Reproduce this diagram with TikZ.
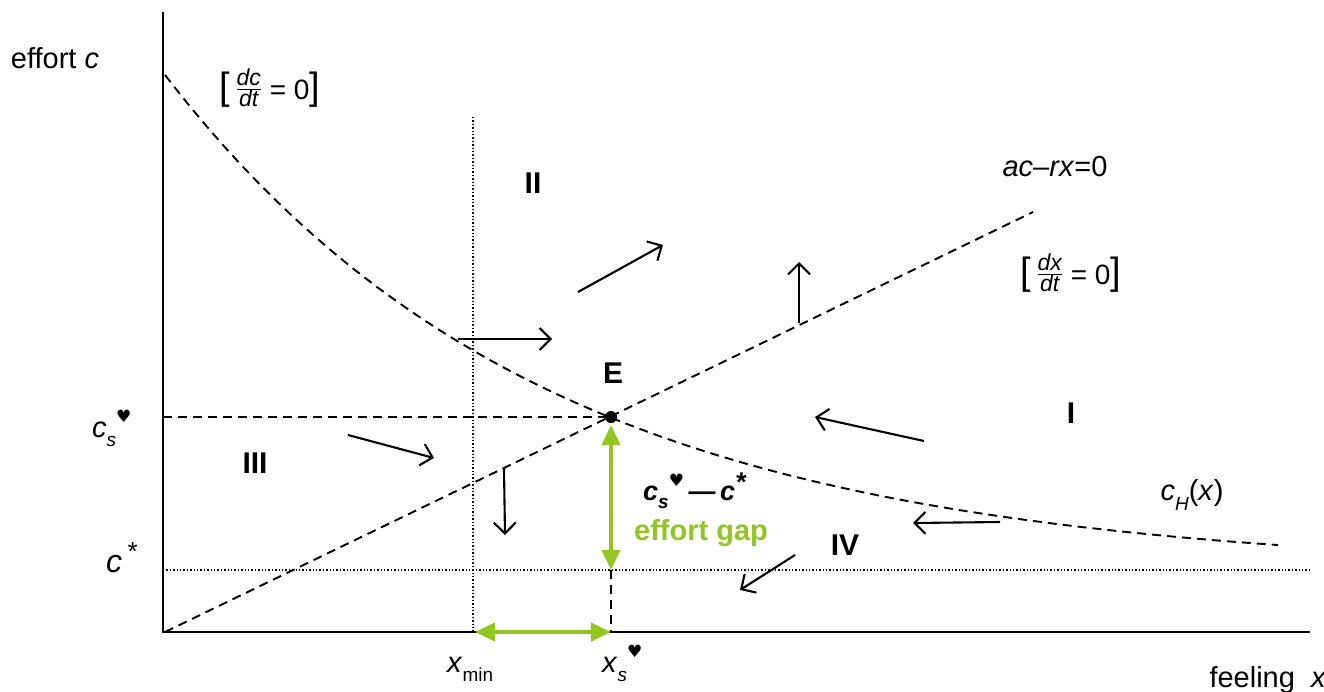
\documentclass[tikz,border=0pt]{standalone}
\usepackage{fontspec}
\setmainfont{Liberation Sans}
\newfontfamily\heartfont{DejaVu Sans}
\usetikzlibrary{arrows.meta}
\definecolor{gapgreen}{RGB}{146,200,30}
\newcommand{\hrt}{{\heartfont\fontsize{17}{17}\selectfont ♥}}
\newcommand{\subs}[1]{\raisebox{-0.32em}{\fontsize{19}{19}\selectfont #1}}
\newcommand{\sups}[1]{\raisebox{0.5em}{#1}}
\newcommand{\slopefrac}[2]{{\fontsize{38}{38}\selectfont[}\,\raisebox{0.12em}{\ensuremath{\frac{\mbox{\fontsize{23}{23}\selectfont\itshape #1}}{\mbox{\fontsize{23}{23}\selectfont\itshape #2}}}}\mbox{\fontsize{28}{28}\selectfont\ = 0}{\fontsize{38}{38}\selectfont]}}
\begin{document}
\begin{tikzpicture}[x=1pt,y=-1pt,
  lbl/.style={font=\fontsize{29}{32}\selectfont, inner sep=0pt},
  roman/.style={font=\fontsize{30}{32}\selectfont\bfseries, inner sep=0pt},
  dline/.style={dash pattern=on 9pt off 6pt, line width=1.9pt},
  dotline/.style={dash pattern=on 1.4pt off 2pt, line width=1.4pt},
  flow/.style={line width=2.1pt, -{Straight Barb[length=11pt,width=22pt,line width=2.1pt]}},
  gaparrow/.style={gapgreen, line width=4pt, {Triangle[length=20pt,width=18pt]}-{Triangle[length=20pt,width=18pt]}}]
\useasboundingbox (0,0) rectangle (1324,691);

% axes
\coordinate (Ytop) at (163,12);
\coordinate (O) at (163,632);
\coordinate (Xend) at (1310,632);
\draw[line width=2.4pt] (Ytop) -- (O) -- (Xend);

% key points
\coordinate (E) at (611,417);
\coordinate (cstarL) at (163,570);
\coordinate (cstarR) at (1310,570);
\coordinate (xminT) at (473,117);
\coordinate (xminB) at (473,632);
\coordinate (lineS) at (165,632);
\coordinate (lineE) at (1033,212);
\coordinate (csL) at (163,417);
\coordinate (EcS) at (611,570);
\coordinate (EX) at (611,632);

% reference lines
\draw[dotline] (cstarL) -- (cstarR);
\draw[dotline] (xminT) -- (xminB);
\draw[dline] (lineS) -- (lineE);
\draw[dline] (csL) -- (E);
\draw[dline] (EcS) -- (EX);
\draw[dline] plot[domain=165:1278, samples=90] (\x, {571.8-496.8*exp(-0.00262*(\x-165))});

% green gap arrows
\coordinate (gT) at (611,425);
\coordinate (gL) at (475,632);
\draw[gaparrow] (gT) -- (EcS);
\draw[gaparrow] (gL) -- (EX);

% equilibrium
\fill (E) circle (6pt);

% flow arrows
\coordinate (a1s) at (458,339); \coordinate (a1e) at (552,339);
\coordinate (a2s) at (578,292); \coordinate (a2e) at (663,245);
\coordinate (a3s) at (799,323); \coordinate (a3e) at (799,262);
\coordinate (a4s) at (924,441); \coordinate (a4e) at (815,417);
\coordinate (a5s) at (348,435); \coordinate (a5e) at (434,458);
\coordinate (a6s) at (504,469); \coordinate (a6e) at (505,535);
\coordinate (a7s) at (1000,522); \coordinate (a7e) at (913,523);
\coordinate (a8s) at (795,555); \coordinate (a8e) at (740,590);
\draw[flow] (a1s) -- (a1e);
\draw[flow] (a2s) -- (a2e);
\draw[flow] (a3s) -- (a3e);
\draw[flow] (a4s) -- (a4e);
\draw[flow] (a5s) -- (a5e);
\draw[flow] (a6s) -- (a6e);
\draw[flow] (a7s) -- (a7e);
\draw[flow] (a8s) -- (a8e);

% labels
\node[lbl] (effort) at (55,58) {effort \textit{c}};
\node[lbl] (dcdt) at (270,88) {\slopefrac{dc}{dt}};
\node[lbl] (acrx) at (1055,167) {\textit{ac}–\textit{rx}=0};
\node[lbl] (dxdt) at (1071,273) {\slopefrac{dx}{dt}};
\node[lbl] (cH) at (1192,495) {\textit{c}\subs{\textit{H}}(\textit{x})};
\node[roman] (rI) at (1071,413) {I};
\node[roman] (rII) at (533,183) {II};
\node[roman] (rIII) at (255,463) {III};
\node[roman] (rIV) at (845,545) {IV};
\node[roman] (Elbl) at (613,373) {E};
\node[lbl, anchor=base west] (cs) at (92,437) {\textit{c}\subs{\textit{s}}\sups{\hrt}};
\node[lbl, anchor=base west, font=\fontsize{32}{34}\selectfont] (cstar) at (106,572) {\textit{c}\,\raisebox{0.35em}{\fontsize{26}{26}\selectfont *}};
\node[lbl, anchor=base west, font=\fontsize{27}{30}\selectfont\bfseries\itshape] (gapexpr) at (643,500) {\textit{c}\subs{\textit{s}}\sups{\hrt}\,—\,\textit{c}\raisebox{0.3em}{*}};
\node[lbl, anchor=base west, font=\fontsize{29}{32}\selectfont\bfseries, text=gapgreen] (gaptxt) at (634,540) {effort gap};
\node[lbl, anchor=base west] (xmin) at (447,672) {\textit{x}\subs{min}};
\node[lbl, anchor=base west] (xs) at (602,672) {\textit{x}\subs{\textit{s}}\sups{\hrt}};
\node[lbl] (feeling) at (1268,680) {feeling\ \ \textit{x}};
\end{tikzpicture}
\end{document}
